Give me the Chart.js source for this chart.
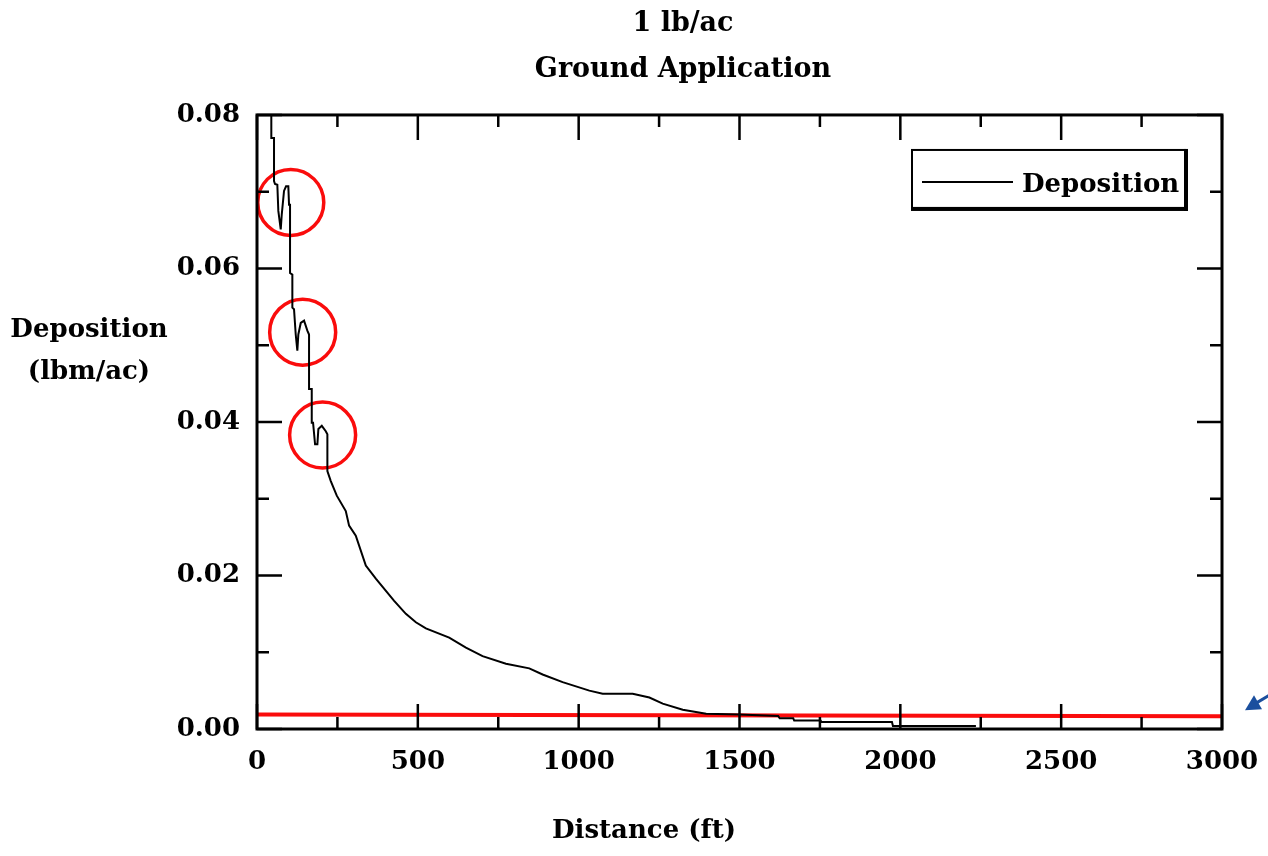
<!DOCTYPE html>
<html>
  <head>
    <title>Deposition</title>
    <script src="https://cdn.jsdelivr.net/npm/chart.js"></script>
    <style>
      body {
        margin: 0;
        background: #fff;
      }
    </style>
  </head>

  <body>
    <canvas id="myChart" width="1268" height="856"></canvas>

    <script>
      // deposition curve (ft, lbm/ac)
      const distFt = [
        44.5, 44.5, 52.9, 52.9, 56.0, 63.2, 66.3, 73.8, 76.9, 84.0, 90.3, 97.4,
        99.6, 102.7, 102.7, 109.9, 109.9, 115.1, 120.4, 125.4, 128.5, 136.0,
        146.3, 156.5, 161.8, 161.8, 170.2, 170.2, 174.3, 180.5, 187.7, 190.8,
        201.4, 213.8, 218.8, 218.8, 229.4, 248.0, 276.0, 286.3, 307.1, 338.3,
        369.4, 426.4, 462.8, 493.9, 525.0, 597.5, 649.5, 701.2, 774.0, 846.5,
        887.9, 950.1, 1033.2, 1074.6, 1168.0, 1219.9, 1261.3, 1323.6, 1396.4,
        1500, 1620, 1625, 1667, 1670, 1752, 1755, 1974, 1977, 2235,
      ];
      const deposition = [
        0.09, 0.077, 0.077, 0.0714, 0.071, 0.0709, 0.0675, 0.0651, 0.067,
        0.0701, 0.0707, 0.0707, 0.0683, 0.0683, 0.0594, 0.0592, 0.0549, 0.0547,
        0.0514, 0.0493, 0.0514, 0.0529, 0.0532, 0.0519, 0.0514, 0.0443, 0.0443,
        0.0399, 0.0399, 0.0371, 0.0371, 0.0391, 0.0395, 0.0388, 0.0384, 0.0336,
        0.0323, 0.0304, 0.0284, 0.0265, 0.0252, 0.0213, 0.0196, 0.0167, 0.015,
        0.0139, 0.0131, 0.0119, 0.0106, 0.0095, 0.0085, 0.0079, 0.0071, 0.0061,
        0.005, 0.0046, 0.0046, 0.0041, 0.0033, 0.0025, 0.002, 0.0019, 0.0017,
        0.0014, 0.0014, 0.0011, 0.0011, 0.0009, 0.0009, 0.0004, 0.0004,
      ];
      // red reference level
      const levelX = [0, 3000];
      const levelY = [0.0019, 0.00165];
      // red circles round the bumps
      const circleX = [105, 142, 204];
      const circleY = [0.0686, 0.0517, 0.0383];

      const titleLines = ["1 lb/ac", "Ground Application"];
      const xTitle = "Distance (ft)";
      const yTitle = ["Deposition", "(lbm/ac)"];

      const FONT = "'DejaVu Serif', serif";
      const toPts = (xs, ys) => xs.map((x, i) => ({ x: x, y: ys[i] }));

      const frameTicks = {
        id: "frameTicks",
        afterDatasetsDraw(chart) {
          const { ctx, chartArea: a, scales } = chart;
          const x = scales.x;
          const y = scales.y;
          ctx.save();
          ctx.strokeStyle = "#000";
          ctx.lineWidth = 2.5;
          ctx.beginPath();
          x.ticks.forEach((t) => {
            const px = x.getPixelForValue(t.value);
            const len = t.value % 500 === 0 ? 25 : 12;
            ctx.moveTo(px, a.bottom);
            ctx.lineTo(px, a.bottom - len);
            ctx.moveTo(px, a.top);
            ctx.lineTo(px, a.top + len);
          });
          y.ticks.forEach((t) => {
            const py = y.getPixelForValue(t.value);
            const len = Math.round(t.value * 100) % 2 === 0 ? 25 : 12;
            ctx.moveTo(a.left, py);
            ctx.lineTo(a.left + len, py);
            ctx.moveTo(a.right, py);
            ctx.lineTo(a.right - len, py);
          });
          ctx.stroke();
          ctx.lineWidth = 3;
          ctx.strokeRect(a.left, a.top, a.right - a.left, a.bottom - a.top);

          // legend box
          const ds = chart.data.datasets[0];
          const bx = a.right - 310;
          const by = a.top + 35;
          const bw = 273;
          const bh = 58;
          ctx.fillStyle = "#fff";
          ctx.fillRect(bx, by, bw, bh);
          ctx.lineWidth = 2;
          ctx.strokeRect(bx, by, bw, bh);
          ctx.fillStyle = "#000";
          ctx.fillRect(bx + bw - 1, by - 1, 4, bh + 4);
          ctx.fillRect(bx - 1, by + bh - 1, bw + 4, 4);
          ctx.strokeStyle = ds.borderColor;
          ctx.lineWidth = 2;
          ctx.beginPath();
          ctx.moveTo(bx + 10, by + 32);
          ctx.lineTo(bx + 101, by + 32);
          ctx.stroke();
          ctx.font = "bold 26px " + FONT;
          ctx.textAlign = "left";
          ctx.textBaseline = "alphabetic";
          ctx.fillText(ds.label, bx + 110, by + 42);

          // axis titles
          ctx.textAlign = "center";
          ctx.fillText(yTitle[0], 89, 337);
          ctx.fillText(yTitle[1], 89, 379);
          ctx.fillText(xTitle, 644, 838);

          // blue arrow pointing at the red line
          const tipX = a.right + 23;
          const tipY = y.getPixelForValue(levelY[1]) - 6;
          ctx.strokeStyle = "#1b4f9e";
          ctx.fillStyle = "#1b4f9e";
          ctx.lineWidth = 3;
          ctx.beginPath();
          ctx.moveTo(tipX + 26, tipY - 16);
          ctx.lineTo(tipX + 9, tipY - 6);
          ctx.stroke();
          ctx.beginPath();
          ctx.moveTo(tipX, tipY);
          ctx.lineTo(tipX + 17, tipY - 1);
          ctx.lineTo(tipX + 9, tipY - 15);
          ctx.closePath();
          ctx.fill();
          ctx.restore();
        },
      };

      const config = {
        type: "scatter",
        data: {
          datasets: [
            {
              label: "Deposition",
              data: toPts(distFt, deposition),
              showLine: true,
              borderColor: "#000",
              borderWidth: 2,
              pointRadius: 0,
              tension: 0,
            },
            {
              label: "Level",
              data: toPts(levelX, levelY),
              showLine: true,
              borderColor: "rgb(250, 12, 12)",
              borderWidth: 4,
              pointRadius: 0,
            },
            {
              label: "Marks",
              data: toPts(circleX, circleY),
              showLine: false,
              pointRadius: 33,
              pointHoverRadius: 33,
              borderColor: "rgb(250, 12, 12)",
              borderWidth: 3.5,
              backgroundColor: "rgba(0,0,0,0)",
              clip: false,
            },
          ],
        },
        options: {
          responsive: false,
          animation: false,
          layout: { padding: { left: 144, right: 46, top: 0, bottom: 0 } },
          plugins: {
            legend: { display: false },
            tooltip: { enabled: false },
            title: {
              display: true,
              text: titleLines,
              color: "#000",
              font: { family: FONT, weight: "bold", size: 27, lineHeight: 1.74 },
              padding: { top: 0, bottom: 21 },
            },
          },
          scales: {
            x: {
              type: "linear",
              min: 0,
              max: 3000,
              grid: { display: false, drawTicks: false },
              border: { display: false },
              ticks: {
                stepSize: 250,
                autoSkip: false,
                maxRotation: 0,
                padding: 18,
                color: "#000",
                font: { family: FONT, weight: "bold", size: 26 },
                callback: (v) => (v % 500 === 0 ? String(v) : ""),
              },
              afterFit: (s) => {
                s.height = 127;
                s.paddingLeft = 0;
                s.paddingRight = 0;
              },
            },
            y: {
              min: 0,
              max: 0.08,
              grid: { display: false, drawTicks: false },
              border: { display: false },
              ticks: {
                stepSize: 0.01,
                autoSkip: false,
                padding: 17,
                color: "#000",
                font: { family: FONT, weight: "bold", size: 26 },
                callback: (v) =>
                  Math.round(v * 100) % 2 === 0 ? v.toFixed(2) : "",
              },
              afterFit: (s) => {
                s.width = 113;
                s.paddingTop = 0;
                s.paddingBottom = 0;
              },
            },
          },
        },
        plugins: [frameTicks],
      };

      const myChart = new Chart(document.getElementById("myChart"), config);
    </script>
  </body>
</html>
